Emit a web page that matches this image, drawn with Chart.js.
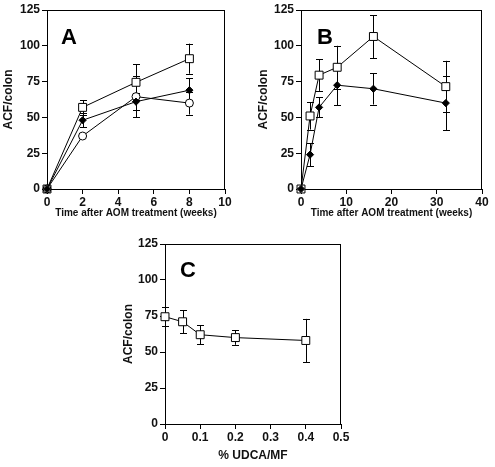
<!DOCTYPE html>
<html>
<head>
<meta charset="utf-8">
<script src="https://cdn.jsdelivr.net/npm/chart.js@4/dist/chart.umd.min.js"></script>
<style>
  html, body { margin: 0; padding: 0; background: #fff; }
  body { width: 495px; height: 467px; position: relative; overflow: hidden; }
  canvas { position: absolute; }
</style>
</head>
<body>
<canvas id="chartA" width="245" height="225" style="left:0;top:0"></canvas>
<canvas id="chartB" width="240" height="225" style="left:255px;top:0"></canvas>
<canvas id="chartC" width="260" height="237" style="left:120px;top:230px"></canvas>
<script>
// ===== DATOS =====
const yTicks = [0, 25, 50, 75, 100, 125];

// Panel A
const weeksA = [0, 2, 5, 8];
const aSquare = [0, 57, 74.5, 91];
const aSquareErr = [0, 5, 12.5, 10.5];
const aDiamond = [0, 48, 61, 69];
const aDiamondErr = [0, 5, 6, 8.5];
const aCircle = [0, 37, 64.5, 60];
const aCircleErr = [0, 0, 14.5, 8];

// Panel B
const weeksB = [0, 2, 4, 8, 16, 32];
const bSquare = [0, 51, 79.5, 85, 106.5, 71.5];
const bSquareErr = [0, 9.5, 11, 15, 15, 18];
const bDiamond = [0, 24, 57, 72.5, 70, 60];
const bDiamondErr = [0, 8, 7, 14, 11, 19];

// Panel C
const udcaPct = [0, 0.05, 0.1, 0.2, 0.4];
const cSquare = [74.5, 71, 62, 60, 58];
const cSquareErr = [6.5, 8, 6.5, 5, 15];

const FONT = 'Liberation Sans, Arial, sans-serif';
const INK = '#111';

// ===== PLUGINS =====
// Caja del área de gráfico + barras de error + letra del panel
const panelPlugin = {
  id: 'panelDecor',
  beforeDatasetsDraw: function(chart, args, opts) {
    const ctx = chart.ctx;
    const area = chart.chartArea;
    const xs = chart.scales.x;
    const ys = chart.scales.y;

    ctx.save();
    ctx.strokeStyle = '#000';
    ctx.lineWidth = 1;
    ctx.strokeRect(Math.round(area.left) + 0.5, Math.round(area.top) + 0.5,
      Math.round(area.right - area.left) - 1, Math.round(area.bottom - area.top));

    chart.data.datasets.forEach(function(ds) {
      if (!ds.errorBars) return;
      ds.data.forEach(function(pt, i) {
        const err = ds.errorBars[i];
        if (!err) return;
        const px = Math.round(xs.getPixelForValue(pt.x)) + 0.5;
        const top = ys.getPixelForValue(pt.y + err);
        const bot = ys.getPixelForValue(pt.y - err);
        ctx.beginPath();
        ctx.moveTo(px, top);
        ctx.lineTo(px, bot);
        ctx.moveTo(px - 3.5, Math.round(top) + 0.5);
        ctx.lineTo(px + 3.5, Math.round(top) + 0.5);
        ctx.moveTo(px - 3.5, Math.round(bot) + 0.5);
        ctx.lineTo(px + 3.5, Math.round(bot) + 0.5);
        ctx.stroke();
      });
    });
    ctx.restore();
  },
  afterDraw: function(chart, args, opts) {
    if (!opts.text) return;
    const ctx = chart.ctx;
    const area = chart.chartArea;
    ctx.save();
    ctx.fillStyle = '#000';
    ctx.font = 'bold 22px ' + FONT;
    ctx.textBaseline = 'alphabetic';
    ctx.fillText(opts.text, area.left + opts.dx, area.top + opts.dy);
    ctx.restore();
  }
};

// ===== HELPERS =====
function toPoints(xs, ys) {
  return xs.map(function(x, i) { return { x: x, y: ys[i] }; });
}

function squareSeries(xs, ys, errs) {
  return {
    data: toPoints(xs, ys), errorBars: errs,
    borderColor: '#000', borderWidth: 1,
    pointStyle: 'rect', pointRadius: 5.6, pointBorderWidth: 1,
    pointBackgroundColor: '#fff', pointBorderColor: '#000',
    clip: false, order: 3
  };
}

function diamondSeries(xs, ys, errs) {
  return {
    data: toPoints(xs, ys), errorBars: errs,
    borderColor: '#000', borderWidth: 1,
    pointStyle: 'rectRot', pointRadius: 3.6, pointBorderWidth: 1,
    pointBackgroundColor: '#000', pointBorderColor: '#000',
    clip: false, order: 1
  };
}

function circleSeries(xs, ys, errs) {
  return {
    data: toPoints(xs, ys), errorBars: errs,
    borderColor: '#000', borderWidth: 1,
    pointStyle: 'circle', pointRadius: 4, pointBorderWidth: 1,
    pointBackgroundColor: '#fff', pointBorderColor: '#000',
    clip: false, order: 2
  };
}

function makeChart(canvasId, cfg) {
  const tickFont = { family: FONT, size: 12, weight: 'bold' };
  return new Chart(document.getElementById(canvasId), {
    type: 'line',
    data: { datasets: cfg.datasets },
    plugins: [panelPlugin],
    options: {
      responsive: false,
      animation: false,
      layout: { padding: cfg.padding },
      plugins: {
        legend: { display: false },
        tooltip: { enabled: false },
        panelDecor: cfg.label
      },
      scales: {
        x: {
          type: 'linear',
          min: cfg.xMin, max: cfg.xMax,
          afterBuildTicks: function(scale) {
            scale.ticks = cfg.xTicks.map(function(v) { return { value: v }; });
          },
          ticks: { font: tickFont, color: INK, padding: 1, maxRotation: 0 },
          grid: { drawOnChartArea: false, drawTicks: true, tickLength: 5, color: '#000' },
          border: { display: true, color: '#000', width: 1 },
          title: {
            display: true, text: cfg.xTitle, color: INK,
            font: { family: FONT, size: cfg.xTitleSize, weight: 'bold' },
            padding: { top: 0, bottom: 0 }
          },
          afterFit: function(scale) { scale.height = cfg.xHeight; }
        },
        y: {
          min: 0, max: 125,
          afterBuildTicks: function(scale) {
            scale.ticks = yTicks.map(function(v) { return { value: v }; });
          },
          ticks: { font: tickFont, color: INK, padding: 2 },
          grid: { drawOnChartArea: false, drawTicks: true, tickLength: 5, color: '#000' },
          border: { display: true, color: '#000', width: 1 },
          title: {
            display: true, text: 'ACF/colon', color: INK,
            font: { family: FONT, size: 12, weight: 'bold' },
            padding: { top: 1, bottom: 0 }
          },
          afterFit: function(scale) { scale.width = cfg.yWidth; }
        }
      }
    }
  });
}

// ===== GRÁFICOS =====
makeChart('chartA', {
  datasets: [
    squareSeries(weeksA, aSquare, aSquareErr),
    circleSeries(weeksA, aCircle, aCircleErr),
    diamondSeries(weeksA, aDiamond, aDiamondErr)
  ],
  xMin: 0, xMax: 10, xTicks: [0, 2, 4, 6, 8, 10],
  xTitle: 'Time after AOM treatment (weeks)', xTitleSize: 10,
  padding: { top: 10, right: 20, bottom: 6, left: 0 },
  yWidth: 47, xHeight: 30,
  label: { text: 'A', dx: 14, dy: 34 }
});

makeChart('chartB', {
  datasets: [
    squareSeries(weeksB, bSquare, bSquareErr),
    diamondSeries(weeksB, bDiamond, bDiamondErr)
  ],
  xMin: 0, xMax: 40, xTicks: [0, 10, 20, 30, 40],
  xTitle: 'Time after AOM treatment (weeks)', xTitleSize: 10,
  padding: { top: 10, right: 13, bottom: 6, left: 0 },
  yWidth: 46, xHeight: 30,
  label: { text: 'B', dx: 16, dy: 34 }
});

makeChart('chartC', {
  datasets: [
    squareSeries(udcaPct, cSquare, cSquareErr)
  ],
  xMin: 0, xMax: 0.5, xTicks: [0, 0.1, 0.2, 0.3, 0.4, 0.5],
  xTitle: '% UDCA/MF', xTitleSize: 12,
  padding: { top: 14, right: 39, bottom: 4, left: 0 },
  yWidth: 45, xHeight: 39,
  label: { text: 'C', dx: 15, dy: 33 }
});
</script>
</body>
</html>
